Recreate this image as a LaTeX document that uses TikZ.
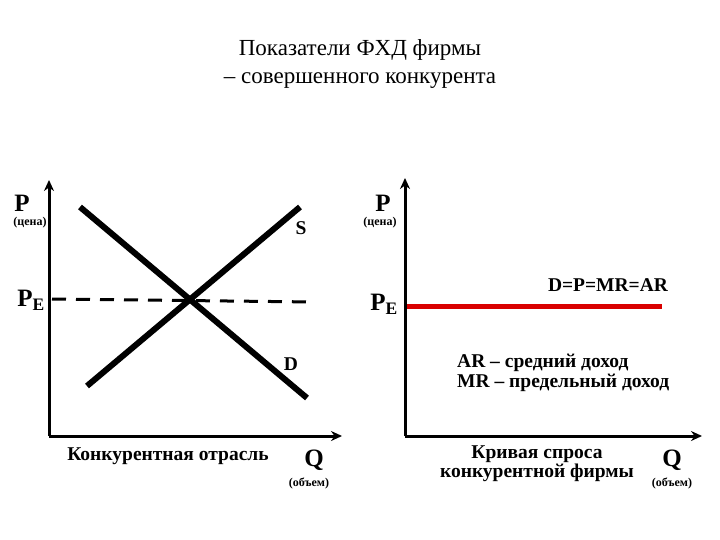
\documentclass[tikz,border=0pt]{standalone}
\usepackage{fontspec}
\setmainfont{Liberation Serif}
\usetikzlibrary{arrows.meta}
\begin{document}
\begin{tikzpicture}[x=1pt,y=-1pt,
  ax/.style={line width=3pt,-{Stealth[length=11pt,width=10pt]}},
  curve/.style={line width=6pt},
  lbl/.style={font=\bfseries\fontsize{25}{26}\selectfont,inner sep=0pt},
  sml/.style={font=\bfseries\fontsize{12}{13}\selectfont,inner sep=0pt},
  txt/.style={font=\bfseries\fontsize{19.5}{19}\selectfont,inner sep=0pt}]
\useasboundingbox (0,0) rectangle (720,540);
\node[font=\fontsize{23}{28}\selectfont,align=center] (title) at (360,64) {Показатели ФХД фирмы\\– совершенного конкурента};
% left
\coordinate (lo) at (49,436);
\coordinate (ly) at (49,180);
\coordinate (lx) at (342,436);
\draw[ax] (lo) -- (ly);
\draw[ax] (lo) -- (lx);
\coordinate (d1) at (80,207); \coordinate (d2) at (307,398);
\coordinate (s1) at (87,386); \coordinate (s2) at (300,207);
\draw[curve] (d1) -- (d2);
\draw[curve] (s1) -- (s2);
\coordinate (pe1) at (52,299); \coordinate (pe2) at (315,302);
\draw[line width=3pt,dash pattern=on 14pt off 10pt] (pe1) -- (pe2);
\node[lbl] (lp) at (22,203) {P};
\node[sml] (lc) at (30,223) {(цена)};
\node[lbl] (lpe) at (31,300) {P\textsubscript{E}};
\node[txt] (ls) at (301,228) {S};
\node[txt] (ld) at (291,364) {D};
\node[txt] (lname) at (168,456) {Конкурентная отрасль};
\node[lbl] (lq) at (314,460) {Q};
\node[sml] (lv) at (309,483) {(объем)};
% right
\coordinate (ro) at (405,436);
\coordinate (ry) at (405,178);
\coordinate (rx) at (702,436);
\draw[ax] (ro) -- (ry);
\draw[ax] (ro) -- (rx);
\coordinate (r1) at (407,306); \coordinate (r2) at (662,306);
\draw[line width=5pt,red!85!black] (r1) -- (r2);
\node[lbl] (rp) at (383,203) {P};
\node[sml] (rc) at (380,223) {(цена)};
\node[lbl] (rpe) at (384,304) {P\textsubscript{E}};
\node[txt] (rd) at (608,285) {D=P=MR=AR};
\node[txt,anchor=west] (ra) at (457,363) {AR – средний доход};
\node[txt,anchor=west] (rm) at (457,383) {MR – предельный доход};
\node[txt,align=center] (rname) at (537,464) {Кривая спроса\\конкурентной фирмы};
\node[lbl] (rq) at (672,460) {Q};
\node[sml] (rv) at (672,483) {(объем)};
\end{tikzpicture}
\end{document}
